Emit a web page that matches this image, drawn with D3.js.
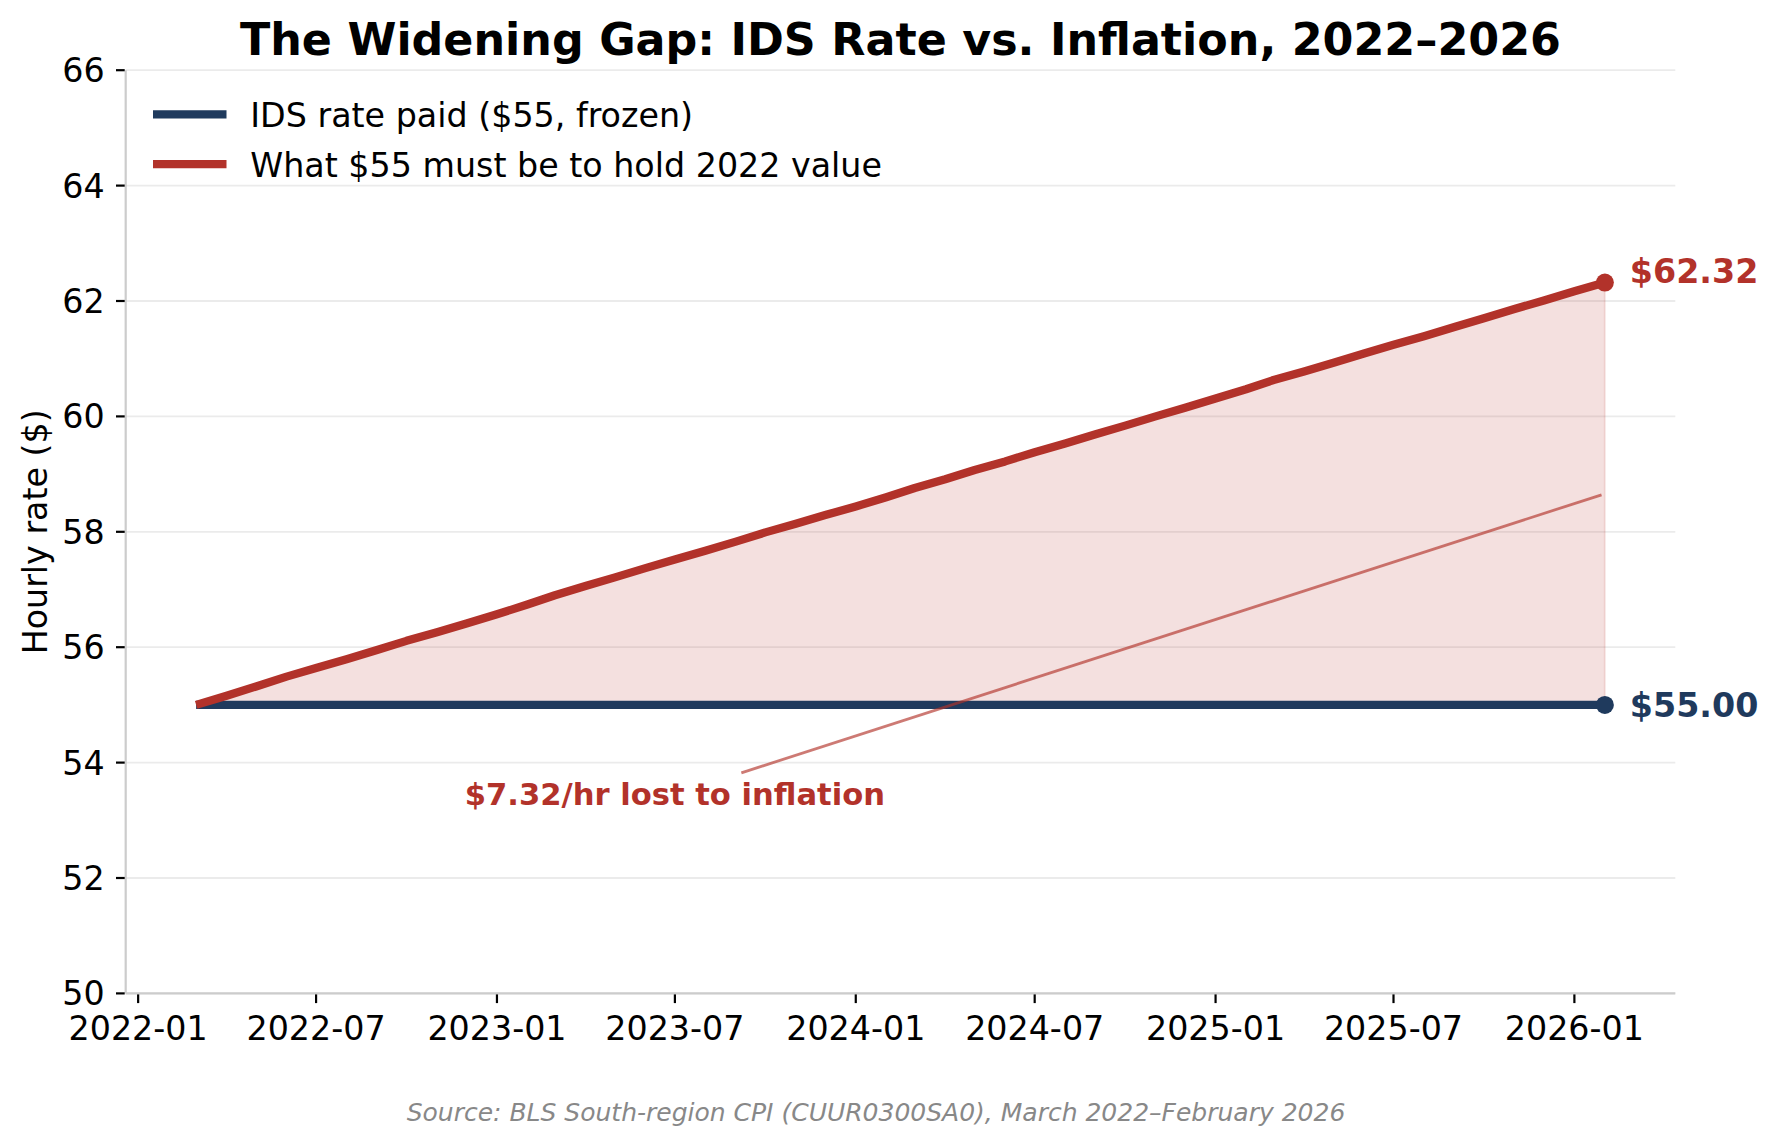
<!DOCTYPE html>
<html><head><meta charset="utf-8">
<script src="https://cdn.jsdelivr.net/npm/d3@7"></script>
<style>body{margin:0;background:#fff} text{font-family:"DejaVu Sans",sans-serif}</style>
</head><body><svg id="c" width="1776" height="1145"></svg>
<script>
// ---- data ----
const months = [
  "2022-03","2022-04","2022-05","2022-06","2022-07","2022-08","2022-09","2022-10","2022-11","2022-12",
  "2023-01","2023-02","2023-03","2023-04","2023-05","2023-06","2023-07","2023-08","2023-09","2023-10","2023-11","2023-12",
  "2024-01","2024-02","2024-03","2024-04","2024-05","2024-06","2024-07","2024-08","2024-09","2024-10","2024-11","2024-12",
  "2025-01","2025-02","2025-03","2025-04","2025-05","2025-06","2025-07","2025-08","2025-09","2025-10","2025-11","2025-12",
  "2026-01","2026-02"];
const requiredRate = [
  55.00,55.16,55.32,55.49,55.64,55.79,55.95,56.11,56.26,56.41,
  56.57,56.74,56.90,57.06,57.21,57.37,57.52,57.67,57.83,57.99,58.14,58.29,
  58.44,58.60,58.76,58.91,59.07,59.22,59.38,59.53,59.69,59.84,60.00,60.15,
  60.31,60.47,60.63,60.78,60.93,61.09,61.24,61.39,61.55,61.70,61.86,62.01,
  62.17,62.32];
const frozenRate = 55;
const xTickLabels = ["2022-01","2022-07","2023-01","2023-07","2024-01","2024-07","2025-01","2025-07","2026-01"];
const yTicks = [50,52,54,56,58,60,62,64,66];
const legendLabels = ["IDS rate paid ($55, frozen)","What $55 must be to hold 2022 value"];
const endLabels = ["$62.32","$55.00"];
const gapMid = 58.66;
const annotationText = "$7.32/hr lost to inflation";
const annotationAt = {month:"2023-07", value:53.45};
const titleText = "The Widening Gap: IDS Rate vs. Inflation, 2022–2026";
const yLabelText = "Hourly rate ($)";
const sourceText = "Source: BLS South-region CPI (CUUR0300SA0), March 2022–February 2026";

// ---- layout ----
const RED = "#b2322a", NAVY = "#1f3a5d";
const m = {left:125.7, right:1675.3, top:70.2, bottom:993.4};
const svg = d3.select("#c");
svg.append("rect").attr("width",1776).attr("height",1145).attr("fill","#fff");
const parse = d3.timeParse("%Y-%m");
const dates = months.map(parse);
const d0 = dates[0], d1 = dates[dates.length-1], span = d1 - d0;
const x = d3.scaleTime().domain([new Date(+d0 - span*0.05), new Date(+d1 + span*0.05)]).range([m.left, m.right]);
const y = d3.scaleLinear().domain([50,66]).range([m.bottom, m.top]);
const data = dates.map((d,i)=>({date:d, v:requiredRate[i]}));

// grid
svg.append("g").selectAll("line").data(yTicks).join("line")
  .attr("x1",m.left).attr("x2",m.right).attr("y1",d=>y(d)).attr("y2",d=>y(d))
  .attr("stroke","#ebebeb").attr("stroke-width",1.8);

// fill
svg.append("path").datum(data)
  .attr("d", d3.area().x(d=>x(d.date)).y0(y(frozenRate)).y1(d=>y(d.v)))
  .attr("fill",RED).attr("fill-opacity",0.15)
  .attr("stroke",RED).attr("stroke-opacity",0.12).attr("stroke-width",2);

// lines
svg.append("path").datum(data)
  .attr("d", d3.line().x(d=>x(d.date)).y(()=>y(frozenRate)))
  .attr("fill","none").attr("stroke",NAVY).attr("stroke-width",8.3);
svg.append("path").datum(data)
  .attr("d", d3.line().x(d=>x(d.date)).y(d=>y(d.v)))
  .attr("fill","none").attr("stroke",RED).attr("stroke-width",8.3).attr("stroke-linejoin","round");

// end points
const last = data[data.length-1];
svg.append("circle").attr("cx",x(last.date)).attr("cy",y(last.v)).attr("r",9).attr("fill",RED);
svg.append("circle").attr("cx",x(last.date)).attr("cy",y(frozenRate)).attr("r",9).attr("fill",NAVY);
svg.append("text").attr("x",x(last.date)+25).attr("y",y(last.v)).attr("dy","0.02em")
  .attr("font-size",33.3).attr("font-weight","bold").attr("fill",RED).text(endLabels[0]);
svg.append("text").attr("x",x(last.date)+25).attr("y",y(frozenRate)).attr("dy","0.36em")
  .attr("font-size",33.3).attr("font-weight","bold").attr("fill",NAVY).text(endLabels[1]);

// annotation
const ax = x(parse(annotationAt.month)), ay = y(annotationAt.value);
const at = svg.append("text").attr("x",ax).attr("y",ay).attr("dy","0.36em").attr("text-anchor","middle")
  .attr("font-size",30.6).attr("font-weight","bold").attr("fill",RED).text(annotationText);
const bb = at.node().getBBox();
const tx = x(last.date), ty = y(gapMid);
const pad = 4.5;
const sTop = (bb.y - pad - ay)/(ty - ay);
const sRight = (bb.x + bb.width + pad - ax)/(tx - ax);
const s = Math.min(sTop, sRight);
const len = Math.hypot(tx-ax, ty-ay);
const sEnd = 1 - 3.5/len;
svg.append("line")
  .attr("x1", ax + s*(tx-ax)).attr("y1", ay + s*(ty-ay))
  .attr("x2", ax + sEnd*(tx-ax)).attr("y2", ay + sEnd*(ty-ay))
  .attr("stroke",RED).attr("stroke-opacity",0.65).attr("stroke-width",2.8);

// spines
svg.append("line").attr("x1",m.left).attr("x2",m.left).attr("y1",m.top).attr("y2",m.bottom)
  .attr("stroke","#cccccc").attr("stroke-width",2.2);
svg.append("line").attr("x1",m.left).attr("x2",m.right).attr("y1",m.bottom).attr("y2",m.bottom)
  .attr("stroke","#cccccc").attr("stroke-width",2.2);

// y ticks
const yt = svg.append("g");
yt.selectAll("line").data(yTicks).join("line")
  .attr("x1",m.left-9.7).attr("x2",m.left-1).attr("y1",d=>y(d)).attr("y2",d=>y(d))
  .attr("stroke","#000").attr("stroke-width",2.2);
yt.selectAll("text").data(yTicks).join("text")
  .attr("x",m.left-21).attr("y",d=>y(d)).attr("dy","0.36em").attr("text-anchor","end")
  .attr("font-size",33.3).attr("fill","#000").text(d=>d);

// x ticks
const xt = svg.append("g");
const xTickDates = xTickLabels.map(parse);
xt.selectAll("line").data(xTickDates).join("line")
  .attr("x1",d=>x(d)).attr("x2",d=>x(d)).attr("y1",m.bottom+1).attr("y2",m.bottom+9.7)
  .attr("stroke","#000").attr("stroke-width",2.2);
xt.selectAll("text").data(xTickLabels).join("text")
  .attr("x",(d,i)=>x(xTickDates[i])).attr("y",1040).attr("text-anchor","middle")
  .attr("font-size",33.3).attr("fill","#000").text(d=>d);

// y label
svg.append("text").attr("transform",`translate(35,${(m.top+m.bottom)/2}) rotate(-90)`)
  .attr("dy","0.36em").attr("text-anchor","middle").attr("font-size",33.3).attr("fill","#000").text(yLabelText);

// legend
const lg = svg.append("g");
const legY = [114.4, 164.2], legC = [NAVY, RED];
legendLabels.forEach((t,i)=>{
  lg.append("line").attr("x1",153).attr("x2",226.5).attr("y1",legY[i]).attr("y2",legY[i])
    .attr("stroke",legC[i]).attr("stroke-width",8.3);
  lg.append("text").attr("x",250.3).attr("y",legY[i]).attr("dy","0.38em")
    .attr("font-size",33.3).attr("fill","#000").text(t);
});

// title
svg.append("text").attr("x",(m.left+m.right)/2).attr("y",55).attr("text-anchor","middle")
  .attr("font-size",44.4).attr("font-weight","bold").attr("fill","#000").text(titleText);

// source
svg.append("text").attr("x",876).attr("y",1121).attr("text-anchor","middle")
  .attr("font-size",25).attr("font-style","italic").attr("fill","#888888").text(sourceText);
</script></body></html>
